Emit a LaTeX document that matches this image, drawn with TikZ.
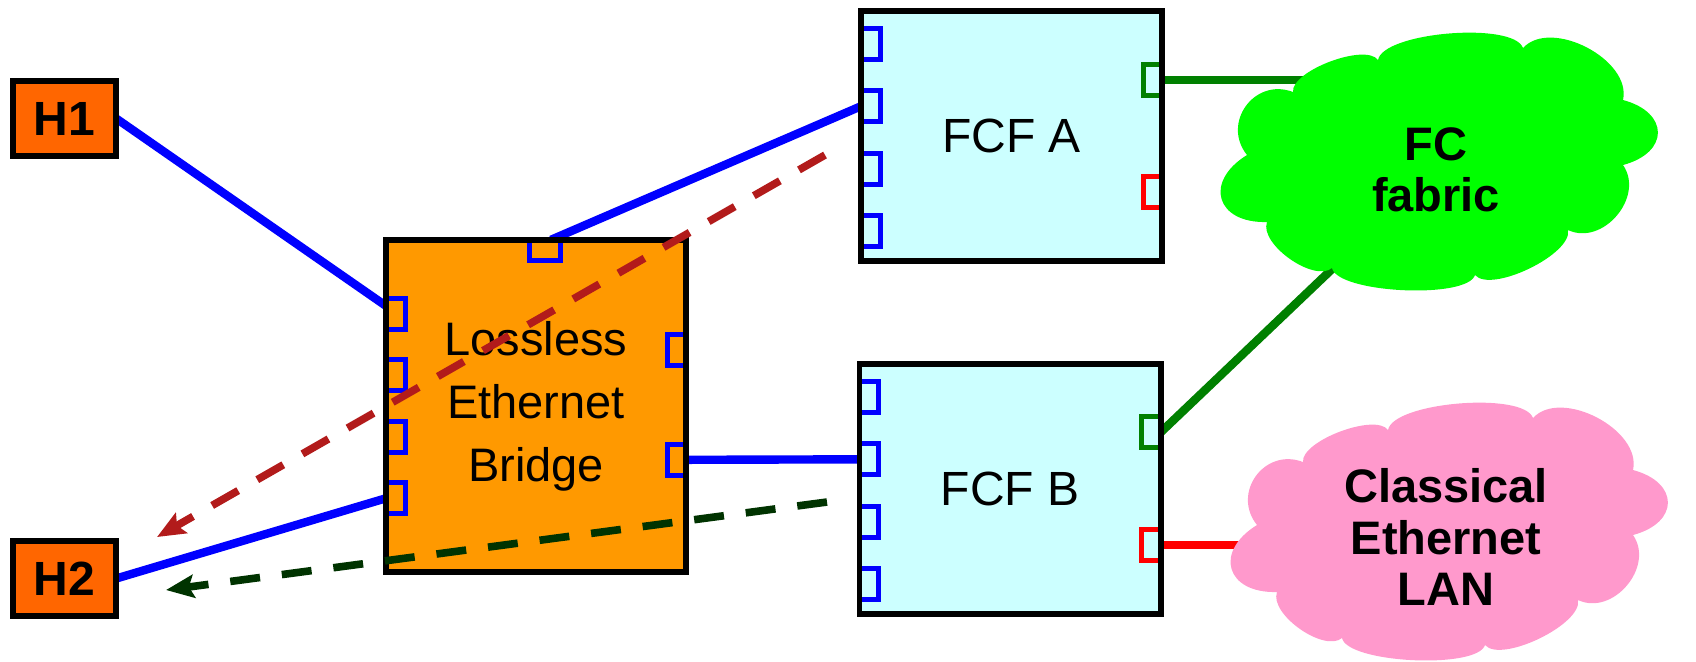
\documentclass[tikz,border=0pt]{standalone}
\usepackage{fontspec}
\setmainfont{Liberation Sans}
\usetikzlibrary{arrows.meta,calc}
\pgfdeclarelayer{background}
\pgfsetlayers{background,main}
\definecolor{horange}{HTML}{FF6600}
\definecolor{borange}{HTML}{FF9900}
\definecolor{fcfcyan}{HTML}{CCFFFF}
\definecolor{fcgreen}{HTML}{00FF00}
\definecolor{lanpink}{HTML}{FF99CC}
\definecolor{linegreen}{HTML}{008000}
\definecolor{dashred}{HTML}{B21B1B}
\definecolor{dashgreen}{HTML}{003300}
\newcommand\puffcloud{(-60,-102.5) to[bulge=0.5] (85,-114.5) to[bulge=0.94] (185,-62.5)
  to[bulge=1.9] (185,2.5) to[bulge=1.16] (130,67.5) to[bulge=0.61] (37,112.5)
  to[bulge=0.46] (-106,105.5) to[bulge=0.75] (-171,59.5) to[bulge=1.87] (-191,-7.5)
  to[bulge=1.35] (-145,-70.5) to[bulge=0.6] (-60,-102.5) -- cycle}
\begin{document}
\begin{tikzpicture}[x=0.5pt, y=-0.5pt,
  box/.style={draw, line width=2.8pt, inner sep=0pt, outer sep=0pt},
  host/.style={box, fill=horange, minimum width=51.7pt, minimum height=37.7pt,
    font=\bfseries\fontsize{24}{28}\selectfont},
  fcf/.style={box, fill=fcfcyan, minimum width=150.7pt, minimum height=125.2pt,
    font=\fontsize{24}{28}\selectfont},
  vport/.style={draw=blue, line width=2.5pt, inner sep=0pt, outer sep=0pt,
    minimum width=9.6pt, minimum height=15.6pt},
  hport/.style={vport, minimum width=15.6pt, minimum height=10.3pt},
  wire/.style={line width=4.2pt},
  flow/.style={line width=3.8pt, dash pattern=on 15pt off 11pt,
    -{Stealth[length=14pt, width=11.5pt, inset=2.5pt]}},
  bulge/.style={bend left=75, looseness=#1},
  cloudtext/.style={inner sep=0pt, align=center,
    font=\bfseries\fontsize{23.5}{25.8}\selectfont}
]
\useasboundingbox (0,0) rectangle (1696,661);

% hosts
\node[host] (H1) at (64.5,118.5) {H1};
\node[host] (H2) at (64.5,578.5) {H2};

% bridge and FCFs
\node[box, fill=borange, minimum width=150.2pt, minimum height=166.2pt, align=center,
  font=\fontsize{23.5}{31.5}\selectfont] (bridge) at (536,406) {Lossless\\Ethernet\\Bridge};
\node[fcf] (fcfA) at (1011.5,136) {FCF A};
\node[fcf] (fcfB) at (1010,489) {FCF B};

% ports
\foreach \i/\o in {1/33,2/95.5,3/158,4/220.5} {
  \node[vport, anchor=west] (fA\i) at ($(fcfA.north west)+(0,\o)$) {};
  \node[vport, anchor=west] (fB\i) at ($(fcfB.north west)+(0,\o)$) {};
}
\node[vport, draw=linegreen, anchor=east] (fAg) at ($(fcfA.north east)+(0,69)$) {};
\node[vport, draw=red, anchor=east] (fAr) at ($(fcfA.north east)+(0,181.5)$) {};
\node[vport, draw=linegreen, anchor=east] (fBg) at ($(fcfB.north east)+(0,68.5)$) {};
\node[vport, draw=red, anchor=east] (fBr) at ($(fcfB.north east)+(0,181)$) {};
\foreach \i/\o in {1/74,2/135,3/197,4/258.5}
  \node[vport, anchor=west] (bL\i) at ($(bridge.north west)+(0,\o)$) {};
\node[vport, anchor=east] (bR1) at ($(bridge.north east)+(0,110.5)$) {};
\node[vport, anchor=east] (bR2) at ($(bridge.north east)+(0,220)$) {};
\node[hport, anchor=north] (bT) at ($(bridge.north)+(9,0)$) {};

% borders over ports
\foreach \b in {bridge,fcfA,fcfB}
  \draw[line width=2.8pt] (\b.north west) rectangle (\b.south east);

% clouds
\fill[fcgreen, shift={(1438,162.5)}] \puffcloud;
\fill[lanpink, shift={(1448,532.5)}] \puffcloud;
\node[cloudtext] (fc) at (1436,170) {FC\\fabric};
\node[cloudtext] (lan) at (1446,537) {Classical\\Ethernet\\LAN};

% solid links
\begin{pgfonlayer}{background}
\draw[wire, blue] (H1.east) -- ([yshift=4pt]bL1.west);
\draw[wire, blue] (H2.east) -- (bL4.west);
\draw[wire, blue] ([xshift=3pt]bT.north) -- (fA2.west);
\draw[wire, blue] (bR2.east) -- (fB2.west);
\draw[wire, linegreen] (fAg.east) -- (fAg.east -| fc.center);
\draw[wire, linegreen] (fBg.east) -- (fc.center);
\draw[wire, red] (fBr.east) -- (fBr.east -| lan.center);
\end{pgfonlayer}

% dashed flows
\coordinate (rS) at (825,155);
\coordinate (rE) at (157,537);
\coordinate (gS) at (827,502);
\coordinate (gE) at (166,590);
\draw[flow, draw=dashred] (rS) -- (rE);
\draw[flow, draw=dashgreen] (gS) -- (gE);
\end{tikzpicture}
\end{document}
